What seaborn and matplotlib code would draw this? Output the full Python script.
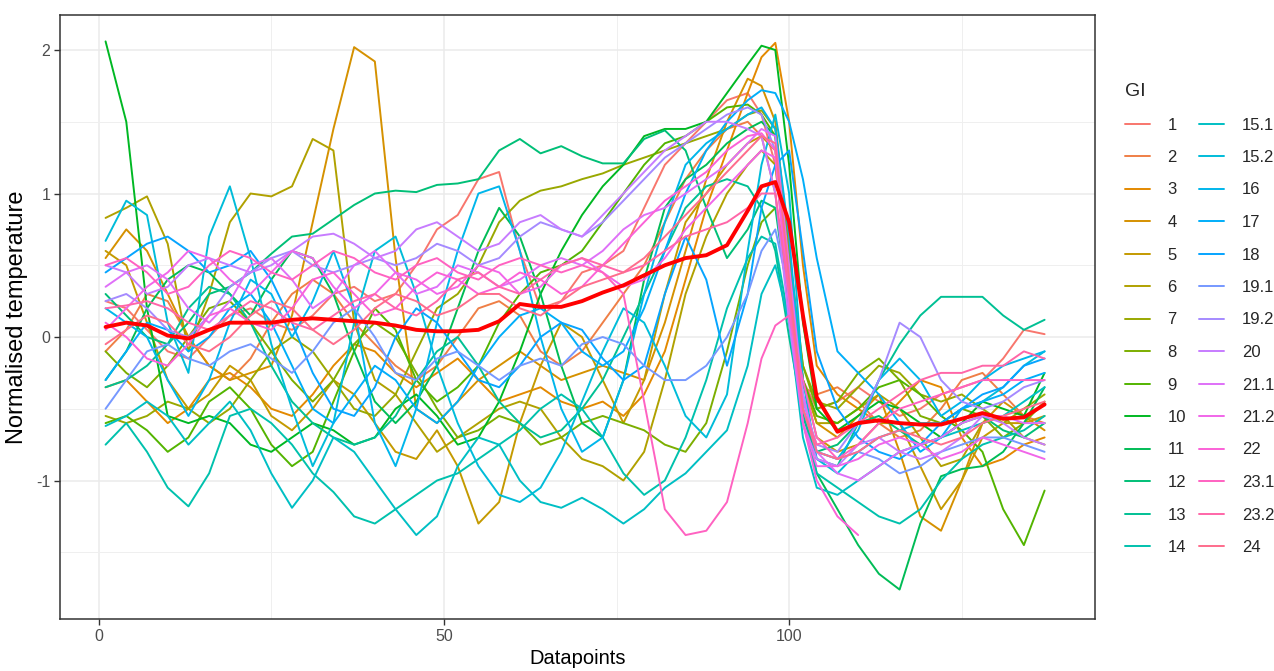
import numpy as np
import pandas as pd
import seaborn as sns
import matplotlib
matplotlib.use("Agg")
import matplotlib.pyplot as plt
from matplotlib.lines import Line2D

nan = np.nan

# Datapoint positions shared by every series
X = [1, 4, 7, 10, 13, 16, 19, 22, 25, 28, 31, 34, 37, 40, 43, 46,
     49, 52, 55, 58, 61, 64, 67, 70, 73, 76, 79, 82, 85, 88, 91, 94,
     96, 98, 100, 102, 104, 107, 110, 113, 116, 119, 122, 125, 128, 131, 134, 137]

GI_LABELS = ["1", "2", "3", "4", "5", "6", "7", "8", "9", "10", "11", "12", "13", "14",
             "15.1", "15.2", "16", "17", "18", "19.1", "19.2", "20", "21.1", "21.2",
             "22", "23.1", "23.2", "24"]

gi_1 = [0.25, 0.20, 0.05, -0.10, -0.15, 0.00, 0.15, 0.20, 0.10, 0.05, 0.15, 0.30, 0.35, 0.25, 0.30, 0.50,
        0.75, 0.85, 1.10, 1.15, 0.60, 0.20, 0.25, 0.45, 0.50, 0.60, 0.90, 1.20, 1.35, 1.50, 1.65, 1.70,
        1.55, 1.20, 0.30, -0.30, -0.50, -0.45, -0.35, -0.45, -0.55, -0.50, -0.40, -0.35, -0.30, -0.15, 0.05, 0.02]
gi_2 = [-0.10, 0.05, 0.30, 0.25, 0.00, -0.20, -0.30, -0.15, 0.10, 0.30, 0.40, 0.30, 0.10, -0.05, -0.20, -0.30,
        -0.20, 0.00, 0.20, 0.25, 0.15, -0.10, -0.20, -0.10, 0.10, 0.30, 0.50, 0.80, 1.10, 1.30, 1.45, 1.50,
        1.40, 1.00, 0.20, -0.35, -0.40, -0.35, -0.45, -0.60, -0.70, -0.65, -0.50, -0.30, -0.25, -0.40, -0.55, -0.60]
gi_3 = [-0.35, -0.30, -0.45, -0.60, -0.50, -0.30, -0.25, -0.35, -0.50, -0.55, -0.40, -0.20, -0.05, -0.10, -0.25, -0.35,
        -0.25, -0.15, -0.30, -0.45, -0.40, -0.35, -0.45, -0.50, -0.45, -0.55, -0.40, -0.10, 0.40, 0.90, 1.30, 1.70,
        1.95, 2.05, 1.50, 0.50, -0.20, -0.40, -0.50, -0.60, -0.45, -0.30, -0.35, -0.70, -0.90, -0.85, -0.75, -0.70]
gi_4 = [0.55, 0.75, 0.60, 0.30, 0.00, -0.20, -0.30, -0.25, -0.20, 0.15, 0.80, 1.45, 2.02, 1.92, 0.55, -0.50,
        -0.60, -0.45, -0.30, -0.20, -0.10, -0.20, -0.30, -0.25, -0.20, -0.25, -0.30, 0.10, 0.60, 1.10, 1.50, 1.80,
        1.75, 1.50, 0.60, -0.30, -0.60, -0.70, -0.55, -0.40, -0.80, -1.25, -1.35, -1.00, -0.60, -0.45, -0.55, -0.65]
gi_5 = [0.60, 0.50, 0.10, -0.30, -0.50, -0.40, -0.20, -0.30, -0.55, -0.65, -0.50, -0.30, -0.40, -0.60, -0.80, -0.85,
        -0.65, -0.90, -1.30, -1.15, -0.60, -0.20, 0.10, 0.00, -0.30, -0.60, -0.30, 0.30, 0.80, 1.00, 1.20, 1.35,
        1.40, 1.30, 0.50, -0.30, -0.70, -0.80, -0.75, -0.60, -0.60, -0.90, -1.20, -1.00, -0.70, -0.60, -0.60, -0.55]
gi_6 = [0.83, 0.90, 0.98, 0.65, -0.10, 0.30, 0.80, 1.00, 0.98, 1.05, 1.38, 1.30, 0.10, -0.30, -0.40, -0.60,
        -0.80, -0.70, -0.60, -0.50, -0.45, -0.50, -0.70, -0.85, -0.90, -1.00, -0.80, -0.30, 0.30, 0.70, 1.00, 1.20,
        1.30, 1.20, 0.40, -0.30, -0.60, -0.60, -0.50, -0.40, -0.50, -0.70, -0.90, -0.85, -0.60, -0.55, -0.70, -0.75]
gi_7 = [-0.55, -0.60, -0.55, -0.45, -0.50, -0.60, -0.50, -0.30, -0.10, 0.00, -0.10, -0.30, -0.50, -0.55, -0.40, -0.10,
        0.20, 0.30, 0.50, 0.80, 0.95, 1.02, 1.05, 1.10, 1.14, 1.20, 1.25, 1.30, 1.35, 1.40, 1.45, 1.55,
        1.58, 1.45, 0.60, -0.20, -0.45, -0.50, -0.35, -0.20, -0.25, -0.40, -0.45, -0.40, -0.50, -0.60, -0.50, -0.40]
gi_8 = [-0.10, -0.25, -0.35, -0.20, 0.00, 0.20, 0.25, 0.10, -0.10, -0.30, -0.45, -0.30, -0.05, 0.10, 0.00, -0.25,
        -0.50, -0.70, -0.65, -0.55, -0.60, -0.75, -0.70, -0.60, -0.55, -0.60, -0.65, -0.75, -0.80, -0.60, -0.10, 0.50,
        0.80, 0.90, 0.50, -0.20, -0.50, -0.45, -0.25, -0.15, -0.30, -0.55, -0.60, -0.50, -0.55, -0.70, -0.60, -0.45]
gi_9 = [-0.60, -0.55, -0.65, -0.80, -0.70, -0.45, -0.35, -0.50, -0.75, -0.90, -0.80, -0.45, -0.10, 0.20, 0.05, -0.30,
        -0.45, -0.35, -0.20, 0.10, 0.30, 0.45, 0.50, 0.60, 0.80, 1.00, 1.20, 1.35, 1.40, 1.50, 1.60, 1.62,
        1.55, 1.40, 0.50, -0.30, -0.55, -0.60, -0.50, -0.35, -0.30, -0.40, -0.55, -0.65, -0.80, -1.20, -1.45, -1.07]
gi_10 = [2.06, 1.50, 0.20, -0.55, -0.60, -0.55, -0.60, -0.75, -0.80, -0.70, -0.60, -0.65, -0.75, -0.70, -0.50, -0.40,
         -0.55, -0.75, -0.70, -0.45, -0.10, 0.30, 0.60, 0.85, 1.05, 1.20, 1.40, 1.45, 1.45, 1.50, 1.70, 1.90,
         2.03, 2.00, 1.20, 0.10, -0.50, -0.65, -0.55, -0.45, -0.50, -0.60, -0.70, -0.60, -0.45, -0.50, -0.55, -0.25]
gi_11 = [-0.30, -0.10, 0.20, 0.40, 0.50, 0.45, 0.30, 0.15, 0.40, 0.60, 0.55, 0.30, -0.10, -0.45, -0.60, -0.45,
         -0.20, 0.20, 0.60, 0.90, 0.70, 0.30, -0.20, -0.60, -0.70, -0.30, 0.40, 0.90, 1.10, 1.20, 1.35, 1.45,
         1.50, 1.40, 0.40, -0.50, -0.95, -1.20, -1.45, -1.65, -1.76, -1.30, -0.97, -0.92, -0.90, -0.80, -0.60, -0.35]
gi_12 = [0.30, 0.15, 0.00, -0.05, 0.10, 0.30, 0.35, 0.45, 0.58, 0.70, 0.72, 0.82, 0.92, 1.00, 1.02, 1.01,
         1.06, 1.07, 1.10, 1.30, 1.38, 1.28, 1.33, 1.26, 1.21, 1.21, 1.38, 1.44, 1.30, 0.90, 0.55, 0.75,
         0.95, 0.90, 0.20, -0.55, -0.80, -0.75, -0.60, -0.55, -0.65, -0.75, -0.70, -0.60, -0.55, -0.65, -0.70, -0.60]
gi_13 = [-0.35, -0.30, -0.20, -0.05, 0.20, 0.35, 0.30, 0.10, -0.20, -0.45, -0.60, -0.70, -0.75, -0.70, -0.55, -0.30,
         -0.10, 0.00, -0.20, -0.45, -0.60, -0.70, -0.65, -0.50, -0.30, 0.00, 0.30, 0.60, 0.90, 1.05, 1.10, 1.05,
         0.90, 0.60, 0.00, -0.55, -0.85, -0.90, -0.60, -0.30, -0.05, 0.15, 0.28, 0.28, 0.28, 0.15, 0.05, 0.12]
gi_14 = [-0.75, -0.60, -0.80, -1.05, -1.18, -0.95, -0.55, -0.50, -0.60, -0.75, -0.95, -1.08, -1.25, -1.30, -1.20, -1.10,
         -1.00, -0.95, -0.85, -0.75, -0.65, -0.50, -0.40, -0.50, -0.70, -0.95, -1.10, -1.00, -0.70, -0.30, 0.20, 0.55,
         0.70, 0.65, 0.10, -0.60, -0.95, -1.05, -1.15, -1.25, -1.30, -1.20, -1.00, -0.85, -0.75, -0.70, -0.65, -0.55]
gi_15_1 = [-0.62, -0.55, -0.45, -0.55, -0.75, -0.60, -0.45, -0.65, -0.95, -1.19, -1.00, -0.70, -0.80, -1.00, -1.20, -1.38,
           -1.25, -0.90, -0.70, -0.75, -1.00, -1.15, -1.19, -1.12, -1.20, -1.30, -1.20, -1.05, -0.95, -0.80, -0.65, -0.20,
           0.30, 0.50, 0.10, -0.70, -1.05, -1.10, -1.00, -0.90, -0.80, -0.75, -0.70, -0.65, -0.60, -0.55, -0.45, -0.35]
gi_15_2 = [0.67, 0.95, 0.85, 0.10, -0.25, 0.70, 1.05, 0.55, -0.05, -0.50, -0.90, -0.60, 0.10, 0.60, 0.70, 0.30,
           -0.20, -0.60, -0.90, -1.10, -1.15, -1.05, -0.80, -0.45, -0.10, 0.20, 0.10, -0.20, -0.55, -0.70, -0.40, 0.60,
           1.20, 1.55, 1.00, -0.30, -0.85, -0.95, -0.80, -0.70, -0.65, -0.60, -0.60, -0.50, -0.45, -0.35, -0.20, -0.10]
gi_16 = [0.20, 0.10, 0.00, -0.30, -0.55, -0.30, 0.10, 0.40, 0.30, 0.00, 0.25, 0.60, 0.20, -0.60, -0.90, -0.50,
         0.10, 0.60, 1.00, 1.05, 0.60, 0.00, -0.50, -0.80, -0.70, -0.30, 0.30, 0.80, 1.20, 1.35, 1.45, 1.55,
         1.60, 1.45, 0.70, -0.40, -0.80, -0.85, -0.65, -0.30, -0.15, -0.30, -0.55, -0.45, -0.30, -0.20, -0.15, -0.10]
gi_17 = [-0.30, -0.10, 0.10, 0.05, -0.10, 0.00, 0.20, 0.30, 0.10, -0.20, -0.50, -0.60, -0.40, -0.20, -0.30, -0.50,
         -0.60, -0.45, -0.20, 0.00, 0.15, 0.20, 0.10, -0.10, -0.20, -0.10, 0.20, 0.60, 1.00, 1.30, 1.50, 1.65,
         1.72, 1.70, 1.50, 1.10, 0.55, -0.10, -0.25, -0.40, -0.60, -0.80, -0.70, -0.50, -0.45, -0.40, -0.30, -0.25]
gi_18 = [0.45, 0.55, 0.65, 0.70, 0.60, 0.45, 0.50, 0.60, 0.40, 0.10, -0.25, -0.50, -0.55, -0.35, 0.00, 0.20,
         0.10, -0.10, -0.30, -0.35, -0.20, 0.00, 0.10, 0.05, -0.15, -0.30, -0.20, 0.30, 0.70, 0.40, -0.20, 0.30,
         0.90, 1.20, 1.30, 0.60, -0.10, -0.50, -0.70, -0.80, -0.85, -0.75, -0.60, -0.50, -0.40, -0.35, -0.20, -0.15]
gi_19_1 = [-0.50, -0.30, -0.10, -0.05, -0.15, -0.20, -0.10, -0.05, -0.15, -0.25, -0.10, 0.10, 0.20, 0.00, -0.25, -0.30,
           -0.15, -0.10, -0.20, -0.30, -0.20, -0.15, -0.20, -0.05, 0.00, -0.05, -0.20, -0.30, -0.30, -0.20, 0.00, 0.30,
           0.60, 0.75, 0.30, -0.50, -0.80, -0.85, -0.80, -0.85, -0.95, -0.90, -0.80, -0.75, -0.70, -0.70, -0.75, -0.80]
gi_19_2 = [0.25, 0.30, 0.20, 0.05, 0.00, 0.15, 0.35, 0.45, 0.55, 0.60, 0.50, 0.45, 0.50, 0.55, 0.50, 0.55,
           0.65, 0.60, 0.50, 0.55, 0.70, 0.80, 0.75, 0.70, 0.80, 0.95, 1.10, 1.25, 1.35, 1.45, 1.55, 1.60,
           1.55, 1.30, 0.40, -0.45, -0.75, -0.80, -0.60, -0.30, 0.10, 0.00, -0.30, -0.45, -0.50, -0.45, -0.35, -0.30]
gi_20 = [0.50, 0.45, 0.30, 0.35, 0.50, 0.55, 0.50, 0.45, 0.50, 0.60, 0.70, 0.72, 0.65, 0.55, 0.60, 0.75,
         0.80, 0.70, 0.60, 0.65, 0.80, 0.85, 0.75, 0.70, 0.85, 1.00, 1.15, 1.30, 1.40, 1.50, 1.50, 1.45,
         1.40, 1.00, 0.10, -0.60, -0.85, -0.90, -0.75, -0.70, -0.80, -0.85, -0.80, -0.70, -0.55, -0.60, -0.70, -0.75]
gi_21_1 = [0.35, 0.45, 0.50, 0.40, 0.20, 0.10, 0.25, 0.50, 0.55, 0.40, 0.20, 0.30, 0.50, 0.60, 0.45, 0.30,
           0.35, 0.50, 0.45, 0.35, 0.40, 0.50, 0.55, 0.50, 0.60, 0.75, 0.85, 0.90, 1.00, 1.10, 1.20, 1.35,
           1.45, 1.40, 0.50, -0.40, -0.80, -0.95, -1.00, -0.90, -0.80, -0.75, -0.70, -0.60, -0.55, -0.55, -0.60, -0.60]
gi_21_2 = [0.05, 0.20, 0.35, 0.45, 0.60, 0.55, 0.40, 0.30, 0.45, 0.60, 0.55, 0.35, 0.20, 0.30, 0.45, 0.40,
           0.30, 0.35, 0.50, 0.45, 0.30, 0.35, 0.50, 0.55, 0.45, 0.35, 0.40, 0.55, 0.75, 0.90, 1.05, 1.20,
           1.30, 1.25, 0.20, -0.60, -0.90, -0.90, -0.85, -0.75, -0.70, -0.75, -0.85, -0.80, -0.70, -0.75, -0.80, -0.85]
gi_22 = [0.10, 0.00, -0.15, -0.20, -0.05, 0.15, 0.20, 0.10, 0.05, 0.20, 0.40, 0.45, 0.30, 0.15, 0.20, 0.35,
         0.45, 0.40, 0.30, 0.35, 0.45, 0.40, 0.30, 0.35, 0.50, 0.65, 0.80, 0.95, 1.05, 1.15, 1.30, 1.40,
         1.42, 1.30, 0.30, -0.60, -1.00, -1.25, -1.38, nan, nan, nan, nan, nan, nan, nan, nan, nan]
gi_23_1 = [0.50, 0.55, 0.45, 0.30, 0.35, 0.50, 0.60, 0.55, 0.45, 0.40, 0.50, 0.60, 0.55, 0.45, 0.40, 0.50,
           0.55, 0.45, 0.40, 0.50, 0.55, 0.50, 0.45, 0.50, 0.45, 0.30, -0.45, -1.20, -1.38, -1.35, -1.15, -0.60,
           -0.15, 0.08, 0.15, -0.30, -0.70, -0.85, -0.75, -0.60, -0.50, -0.45, -0.40, -0.35, -0.30, -0.30, -0.30, -0.30]
gi_23_2 = [0.20, 0.22, 0.25, 0.20, 0.10, 0.05, 0.15, 0.25, 0.20, 0.10, 0.05, 0.15, 0.25, 0.30, 0.20, 0.15,
           0.25, 0.40, 0.45, 0.35, 0.30, 0.40, 0.50, 0.55, 0.50, 0.45, 0.50, 0.60, 0.70, 0.75, 0.80, 0.90,
           1.00, 1.00, 0.30, -0.50, -0.75, -0.70, -0.60, -0.50, -0.40, -0.30, -0.25, -0.25, -0.20, -0.20, -0.10, -0.15]
gi_24 = [-0.05, 0.05, 0.15, 0.10, -0.05, -0.10, 0.00, 0.15, 0.25, 0.20, 0.05, -0.05, 0.05, 0.20, 0.30, 0.25,
         0.15, 0.20, 0.30, 0.30, 0.20, 0.15, 0.25, 0.35, 0.40, 0.45, 0.55, 0.70, 0.85, 1.00, 1.15, 1.30,
         1.40, 1.35, 0.40, -0.50, -0.80, -0.85, -0.80, -0.70, -0.65, -0.70, -0.75, -0.70, -0.60, -0.55, -0.50, -0.45]

# Overall mean profile (thick red line)
MEAN = [0.07, 0.10, 0.08, 0.01, -0.01, 0.05, 0.10, 0.10, 0.10, 0.12, 0.13, 0.12, 0.11, 0.10, 0.08, 0.05,
        0.04, 0.04, 0.05, 0.11, 0.23, 0.21, 0.21, 0.25, 0.31, 0.36, 0.43, 0.50, 0.55, 0.57, 0.64, 0.88,
        1.05, 1.08, 0.80, 0.15, -0.42, -0.66, -0.60, -0.58, -0.60, -0.61, -0.61, -0.57, -0.53, -0.57, -0.56, -0.47]

SERIES = [gi_1, gi_2, gi_3, gi_4, gi_5, gi_6, gi_7, gi_8, gi_9, gi_10, gi_11, gi_12, gi_13, gi_14,
          gi_15_1, gi_15_2, gi_16, gi_17, gi_18, gi_19_1, gi_19_2, gi_20, gi_21_1, gi_21_2,
          gi_22, gi_23_1, gi_23_2, gi_24]


def hcl_hex(h, c=100.0, l=65.0):
    """Polar CIE-LUV colour to hex (same model as R's hcl())."""
    hr = np.deg2rad(h)
    U, V = c * np.cos(hr), c * np.sin(hr)
    xn, yn, zn = 95.047, 100.0, 108.883
    den = xn + 15 * yn + 3 * zn
    un, vn = 4 * xn / den, 9 * yn / den
    Y = yn * ((l + 16) / 116) ** 3
    u = U / (13 * l) + un
    v = V / (13 * l) + vn
    Xc = 9.0 * Y * u / (4 * v)
    Zc = -Xc / 3 - 5 * Y + 3 * Y / v
    rgb = np.array([3.240479 * Xc - 1.537150 * Y - 0.498535 * Zc,
                    -0.969256 * Xc + 1.875992 * Y + 0.041556 * Zc,
                    0.055648 * Xc - 0.204043 * Y + 1.057311 * Zc]) / 100.0
    out = np.where(rgb > 0.00304, 1.055 * np.abs(rgb) ** (1 / 2.4) - 0.055, 12.92 * rgb)
    out = np.clip(out, 0, 1)
    return "#%02X%02X%02X" % tuple(int(round(x * 255)) for x in out)


n = len(GI_LABELS)
hues = np.linspace(15, 375, n + 1)[:-1] % 360
colors = [hcl_hex(h) for h in hues]

rows = []
for lab, vals in zip(GI_LABELS, SERIES):
    for x, v in zip(X, vals):
        if not np.isnan(v):
            rows.append((x, v, lab))
df = pd.DataFrame(rows, columns=["Datapoints", "value", "GI"])

sns.set_theme(style="white")
plt.rcParams["font.family"] = ["Liberation Sans", "DejaVu Sans"]

W, H = 1274, 671
fig = plt.figure(figsize=(W / 100, H / 100), dpi=100)
L, R, T, B = 60, 1095, 15, 619
ax = fig.add_axes([L / W, 1 - B / H, (R - L) / W, (B - T) / H])

sns.lineplot(data=df, x="Datapoints", y="value", hue="GI", hue_order=GI_LABELS,
             palette=colors, estimator=None, sort=True, linewidth=1.4,
             legend=False, ax=ax)
sns.lineplot(x=X, y=MEAN, color="#FF0000", linewidth=2.8, estimator=None, ax=ax)

ax.set_xlim(-5.6, 144.3)
ax.set_ylim(-1.965, 2.244)
ax.set_xticks([0, 50, 100])
ax.set_xticks([25, 75, 125], minor=True)
ax.set_yticks([-1, 0, 1, 2])
ax.set_yticks([-1.5, -0.5, 0.5, 1.5], minor=True)
ax.set_yticklabels(["-1", "0", "1", "2"])
ax.set_axisbelow(True)
ax.grid(which="major", color="#EBEBEB", linewidth=1.1)
ax.grid(which="minor", color="#EFEFEF", linewidth=0.7)
for s in ax.spines.values():
    s.set_color("#333333")
    s.set_linewidth(1.1)
ax.tick_params(which="major", direction="out", length=4, width=1.0, color="#333333",
               labelcolor="#4D4D4D", labelsize=11.5, pad=3,
               bottom=True, left=True)
ax.tick_params(which="minor", length=0)
ax.set_xlabel("Datapoints", fontsize=14.5, color="black", labelpad=4)
ax.set_ylabel("Normalised temperature", fontsize=17, color="black", labelpad=6)

handles = [Line2D([], [], color=c, linewidth=1.4) for c in colors]
leg = fig.legend(handles, GI_LABELS, title="GI", ncol=2, frameon=False,
                 loc="upper left", bbox_to_anchor=(1125 / W, 1 - 83 / H),
                 fontsize=12, title_fontsize=14, alignment="left",
                 handlelength=1.5, handletextpad=1.05, columnspacing=0.8,
                 labelspacing=1.05, borderpad=0, borderaxespad=0)

fig.savefig("out.png", dpi=100)
